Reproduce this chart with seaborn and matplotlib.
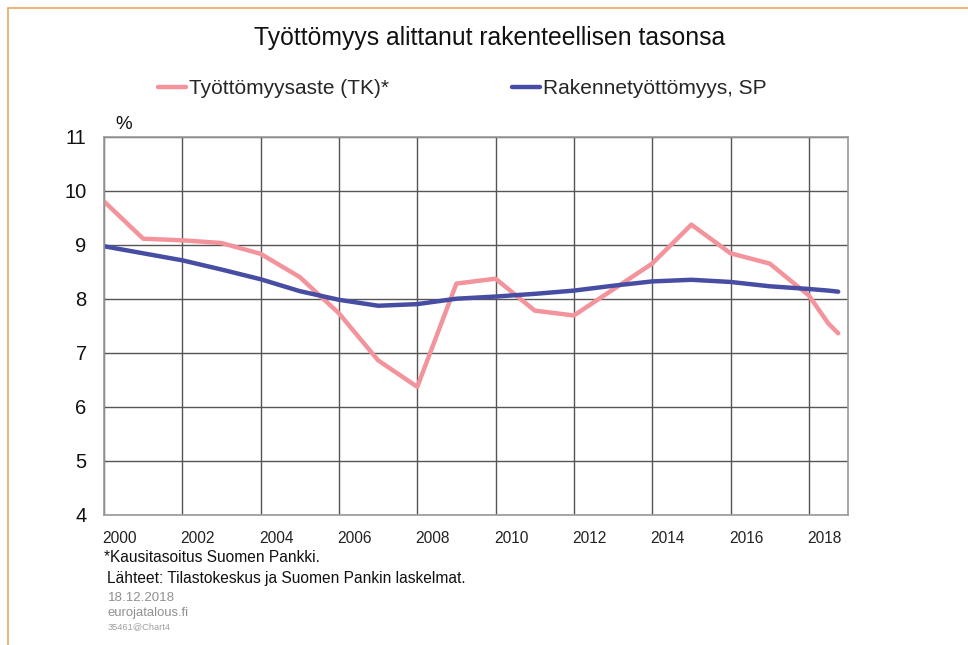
import numpy as np
import pandas as pd
import matplotlib
matplotlib.use("Agg")
import matplotlib.pyplot as plt
import matplotlib.transforms as mtransforms
from matplotlib.lines import Line2D
import seaborn as sns

# ---- data ----
years = [2000, 2001, 2002, 2003, 2004, 2005, 2006, 2007, 2008, 2009,
         2010, 2011, 2012, 2013, 2014, 2015, 2016, 2017, 2018, 2018.5, 2018.75]
tk_rate = [9.8, 9.11, 9.08, 9.03, 8.83, 8.40, 7.73, 6.86, 6.37, 8.28,
           8.37, 7.78, 7.69, 8.17, 8.65, 9.37, 8.84, 8.65, 8.06, 7.54, 7.36]
sp_structural = [8.97, 8.84, 8.71, 8.54, 8.36, 8.14, 7.98, 7.87, 7.90, 8.00,
                 8.04, 8.09, 8.15, 8.24, 8.32, 8.35, 8.31, 8.23, 8.18, 8.15, 8.13]
series_names = ["Työttömyysaste (TK)*", "Rakennetyöttömyys, SP"]
colors = ["#F3939B", "#484DA4"]
x_ticks = [2000, 2002, 2004, 2006, 2008, 2010, 2012, 2014, 2016, 2018]
y_ticks = [4, 5, 6, 7, 8, 9, 10, 11]

title = "Työttömyys alittanut rakenteellisen tasonsa"
note1 = "*Kausitasoitus Suomen Pankki."
note2 = "Lähteet: Tilastokeskus ja Suomen Pankin laskelmat."
date_txt = "18.12.2018"
site_txt = "eurojatalous.fi"
id_txt = "35461@Chart4"

df = pd.DataFrame({
    "year": years * 2,
    "value": tk_rate + sp_structural,
    "series": [series_names[0]] * len(years) + [series_names[1]] * len(years),
})

sns.set_style("white")
plt.rcParams["font.family"] = ["Liberation Sans", "DejaVu Sans"]

W, H = 968, 645
fig = plt.figure(figsize=(W / 100, H / 100), dpi=100)
ax = fig.add_axes([104 / W, 1 - 515 / H, (848 - 104) / W, (515 - 136.5) / H])

sns.lineplot(data=df, x="year", y="value", hue="series", palette=colors,
             hue_order=series_names, estimator=None, sort=True,
             linewidth=3.2, ax=ax, legend=False)

ax.set_xlim(2000, 2019)
ax.set_ylim(4, 11)
ax.set_xlabel("")
ax.set_ylabel("")
ax.set_xticks(x_ticks)
ax.set_xticklabels([str(y) for y in x_ticks])
ax.set_xticks(np.arange(2001, 2019, 2), minor=True)
ax.set_yticks(y_ticks)
ax.set_yticklabels([str(v) for v in y_ticks])

grid_c = "#555555"
ax.grid(True, which="major", color=grid_c, linewidth=1.0)
ax.set_axisbelow(True)
for s in ax.spines.values():
    s.set_visible(True)
    s.set_color("#9a9a9a")
    s.set_linewidth(1.2)

ax.tick_params(axis="x", which="major", length=0, pad=11.5, labelsize=11.2, labelcolor="#222222")
ax.tick_params(axis="x", which="minor", length=3, direction="in", color="#777777", width=1)
ax.tick_params(axis="y", which="major", length=0, pad=12.5, labelsize=14.5, labelcolor="#111111")

offset = mtransforms.ScaledTranslation(15.5 / 100, 0, fig.dpi_scale_trans)
for lab in ax.get_xticklabels():
    lab.set_transform(lab.get_transform() + offset)

fig.text(123.5 / W, 1 - 124.5 / H, "%", ha="center", va="center", fontsize=13.5, color="#111111")

fig.text(490 / W, 1 - 38 / H, title, ha="center", va="center", fontsize=17.8, color="#111111")

handles = [Line2D([], [], color=c, linewidth=3.2) for c in colors]
fig.legend(handles, series_names, loc="center left",
           bbox_to_anchor=(158 / W, 1 - 89 / H), ncol=2, frameon=False,
           fontsize=15, handlelength=1.35, handletextpad=0.15, columnspacing=5.9,
           borderaxespad=0, borderpad=0)

fig.text(104 / W, 1 - 558 / H, note1, ha="left", va="center", fontsize=11.2, color="#111111")
fig.text(107 / W, 1 - 579 / H, note2, ha="left", va="center", fontsize=11.2, color="#111111")
fig.text(108 / W, 1 - 598 / H, date_txt, ha="left", va="center", fontsize=9.6, color="#909090")
fig.text(108 / W, 1 - 613 / H, site_txt, ha="left", va="center", fontsize=9.4, color="#909090")
fig.text(108 / W, 1 - 627 / H, id_txt, ha="left", va="center", fontsize=6.7, color="#a0a0a0")

# slide frame
frame_c = "#E8A862"
fig.add_artist(Line2D([8 / W, 1], [1 - 8 / H, 1 - 8 / H], color=frame_c, linewidth=1.2,
                      transform=fig.transFigure))
fig.add_artist(Line2D([8 / W, 8 / W], [0, 1 - 8 / H], color=frame_c, linewidth=1.2,
                      transform=fig.transFigure))

fig.savefig("out.png", dpi=100, facecolor="white")
